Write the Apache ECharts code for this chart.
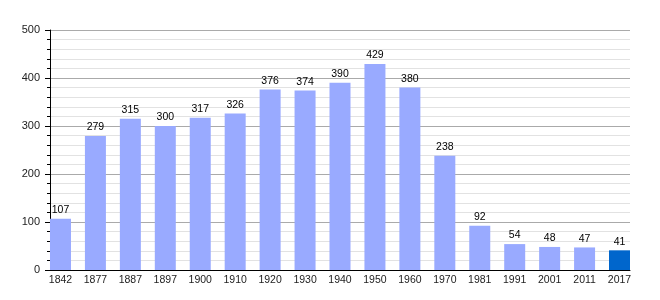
<!DOCTYPE html>
<html><head><meta charset="utf-8">
<script src="https://cdn.jsdelivr.net/npm/echarts@6/dist/echarts.min.js"></script>
<style>html,body{margin:0;padding:0;background:#fff}#c{width:660px;height:300px}</style>
</head><body><div id="c"></div>
<script>
const years = ['1842','1877','1887','1897','1900','1910','1920','1930','1940','1950','1960','1970','1981','1991','2001','2011','2017'];
const population = [107,279,315,300,317,326,376,374,390,429,380,238,92,54,48,47,41];
const yTicks = [0,100,200,300,400,500];

const FONT = 'Liberation Sans, Arial, sans-serif';
const chart = echarts.init(document.getElementById('c'));
const data = population.map((v, i) => ({
  value: [i, v],
  itemStyle: { color: i === population.length - 1 ? '#0066cc' : '#99aaff' }
}));
chart.setOption({
  animation: false,
  grid: { left: 50, right: 30, top: 30, bottom: 30 },
  xAxis: {
    type: 'value', min: -0.3, max: population.length - 0.7,
    axisLine: { show: true, onZero: false, lineStyle: { color: '#000', width: 1 } },
    axisTick: { show: false },
    splitLine: { show: false },
    axisLabel: {
      customValues: years.map((y, i) => i),
      formatter: v => years[Math.round(v)],
      color: '#222', fontSize: 10.5, fontFamily: FONT, margin: 5
    }
  },
  yAxis: {
    type: 'value', min: 0, max: 500, interval: 100,
    axisLine: { show: true, onZero: false, lineStyle: { color: '#000', width: 1 } },
    axisTick: { show: true, inside: false, length: 5, lineStyle: { color: '#000' } },
    minorTick: { show: true, splitNumber: 5, length: 3, lineStyle: { color: '#000' } },
    splitLine: { show: true, lineStyle: { color: '#aaa', width: 1 } },
    minorSplitLine: { show: true, lineStyle: { color: '#e2e2e2', width: 1 } },
    axisLabel: {
      customValues: yTicks,
      color: '#222', fontSize: 11, fontFamily: FONT, margin: 10
    }
  },
  series: [{
    type: 'bar', barWidth: 21, data: data, z: 3,
    label: { show: true, position: 'top', distance: 3, color: '#000', fontSize: 10.5,
      fontFamily: FONT, formatter: p => p.value[1] }
  }]
});
</script></body></html>
